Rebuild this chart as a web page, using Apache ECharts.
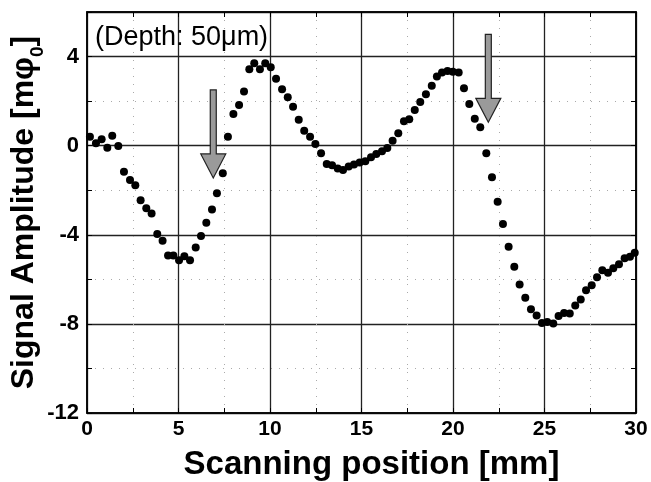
<!DOCTYPE html>
<html><head><meta charset="utf-8">
<script src="https://cdn.jsdelivr.net/npm/echarts@6/dist/echarts.min.js"></script>
<style>html,body{margin:0;padding:0;background:#fff}#c{width:651px;height:482px}</style>
</head><body><div id="c"></div>
<script>
// Scanning position [mm]
const positions = [0.16,0.49,0.80,1.11,1.38,1.71,2.02,2.35,2.64,2.93,3.24,3.53,3.84,4.13,4.43,4.72,5.03,5.32,5.63,5.94,6.23,6.52,6.83,7.10,7.42,7.70,8.00,8.31,8.58,8.87,9.14,9.45,9.74,10.04,10.33,10.66,10.97,11.26,11.57,11.87,12.19,12.48,12.79,13.10,13.39,13.70,13.99,14.30,14.59,14.90,15.21,15.52,15.81,16.12,16.41,16.70,17.01,17.32,17.61,17.91,18.21,18.52,18.84,19.12,19.40,19.70,19.99,20.31,20.60,20.89,21.19,21.49,21.82,22.13,22.44,22.73,23.04,23.35,23.64,23.95,24.26,24.57,24.86,25.15,25.48,25.77,26.07,26.38,26.68,26.98,27.27,27.58,27.87,28.16,28.47,28.76,29.07,29.38,29.67,29.93];
// Signal amplitude [m phi0]
const amplitudes = [0.40,0.11,0.29,-0.09,0.45,-0.01,-1.17,-1.54,-1.78,-2.45,-2.81,-3.04,-3.97,-4.27,-4.93,-4.93,-5.14,-4.96,-5.14,-4.57,-4.06,-3.46,-2.86,-2.14,-1.24,0.40,1.42,1.82,2.43,3.43,3.70,3.43,3.70,3.52,3.00,2.53,2.17,1.75,1.16,0.67,0.40,0.08,-0.34,-0.82,-0.88,-1.03,-1.09,-0.94,-0.85,-0.76,-0.70,-0.52,-0.37,-0.25,-0.10,0.22,0.56,1.10,1.19,1.60,1.96,2.31,2.69,3.11,3.28,3.35,3.32,3.28,2.58,1.87,1.21,0.83,-0.34,-1.42,-2.52,-3.52,-4.54,-5.44,-6.23,-6.83,-7.34,-7.62,-7.96,-7.92,-7.98,-7.65,-7.51,-7.53,-7.17,-6.90,-6.49,-6.27,-5.91,-5.59,-5.71,-5.50,-5.32,-5.05,-4.99,-4.81];
// Arrows: x position, top of shaft, tip
const arrowX = [6.9, 21.93];
const arrowTop = [2.5, 5.0];
const arrowTip = [-1.45, 1.05];
const xTicks = [0,5,10,15,20,25,30];
const yTicks = [-12,-8,-4,0,4];
const annotation = '(Depth: 50\u03bcm)';

const pts = positions.map((x,i)=>[x, amplitudes[i]]);
const arrows = arrowX.map((x,i)=>[x, arrowTop[i], arrowTip[i]]);

const chart = echarts.init(document.getElementById('c'), null, {renderer:'canvas'});
const FONT = '"Liberation Sans", Arial, sans-serif';
function xAx(pos, labels){
  return {
    type:'value', min:0, max:30, interval:5, position:pos,
    axisLine:{show:true, onZero:false, lineStyle:{color:'#000', width:1.5}},
    axisTick:{show:true, inside:true, length:5, lineStyle:{color:'#000'}},
    minorTick:{show:true, splitNumber:2, length:5, lineStyle:{color:'#000'}},
    axisLabel:{show:labels, color:'#000', fontFamily:FONT, fontWeight:'bold', fontSize:21, margin:6,
      formatter:v=> xTicks.includes(v)?String(v):''},
    splitLine:{show:labels, lineStyle:{color:'#222', width:1.3}},
    minorSplitLine:{show:labels, lineStyle:{color:'#aaa', width:1, type:[1,7]}},
    name: labels ? 'Scanning position [mm]' : '',
    nameLocation:'middle', nameGap:35, nameMoveOverlap:false,
    nameTextStyle:{color:'#000', fontFamily:FONT, fontWeight:'bold', fontSize:33, padding:[0,0,0,20]}
  };
}
function yAx(pos, labels){
  return {
    type:'value', min:-12, max:6, interval:4, position:pos,
    axisLine:{show:true, onZero:false, lineStyle:{color:'#000', width:1.5}},
    axisTick:{show:true, inside:true, length:5, lineStyle:{color:'#000'}},
    minorTick:{show:true, splitNumber:2, length:5, lineStyle:{color:'#000'}},
    axisLabel:{show:labels, color:'#000', fontFamily:FONT, fontWeight:'bold', fontSize:22, margin:8,
      formatter:v=> yTicks.includes(v)?String(v):''},
    splitLine:{show:labels, lineStyle:{color:'#222', width:1.3}},
    minorSplitLine:{show:labels, lineStyle:{color:'#aaa', width:1, type:[1,7]}},
    name: labels ? '{a|Signal Amplitude [m}{b|\u03c6}{c|0}{a|]}' : '',
    nameLocation:'middle', nameGap:47, nameRotate:90, nameMoveOverlap:false,
    nameTextStyle:{color:'#000', fontFamily:FONT, fontWeight:'bold', fontSize:32,
      rich:{
        a:{fontFamily:FONT, fontWeight:'bold', fontSize:32, color:'#000'},
        b:{fontFamily:FONT, fontWeight:'bold', fontSize:32, color:'#000'},
        c:{fontFamily:FONT, fontWeight:'bold', fontSize:19, color:'#000', verticalAlign:'bottom', padding:[0,0,-7,0]}
      }}
  };
}

chart.setOption({
  animation:false,
  backgroundColor:'#fff',
  grid:{left:87, right:15, top:12, bottom:69, show:true, borderColor:'#000', borderWidth:1.5,
    containLabel:false, outerBoundsMode:'none'},
  xAxis:[xAx('bottom', true), xAx('top', false)],
  yAxis:[yAx('left', true), yAx('right', false)],
  graphic:[{type:'text', left:95, top:24, z:100,
    style:{text:annotation, fontFamily:FONT, fontSize:27, fill:'#000'}}],
  series:[
    {type:'scatter', data:pts, symbol:'circle', symbolSize:8, itemStyle:{color:'#000', opacity:1}, z:3},
    {type:'custom', data:arrows, z:5, clip:false,
      encode:{x:0, y:[1,2]},
      renderItem:function(params, api){
        const x = api.value(0);
        const p1 = api.coord([x, api.value(1)]);
        const p2 = api.coord([x, api.value(2)]);
        const hl = 24, hw = 12.5, sw = 3;
        const cx = p1[0], hb = p2[1]-hl;
        return {type:'polygon', shape:{points:[
          [cx-sw,p1[1]],[cx+sw,p1[1]],[cx+sw,hb],[cx+hw,hb],[cx,p2[1]],[cx-hw,hb],[cx-sw,hb]]},
          style:{fill:'#9a9a9a', stroke:'#222', lineWidth:1.2}};
      }}
  ]
});
</script></body></html>
